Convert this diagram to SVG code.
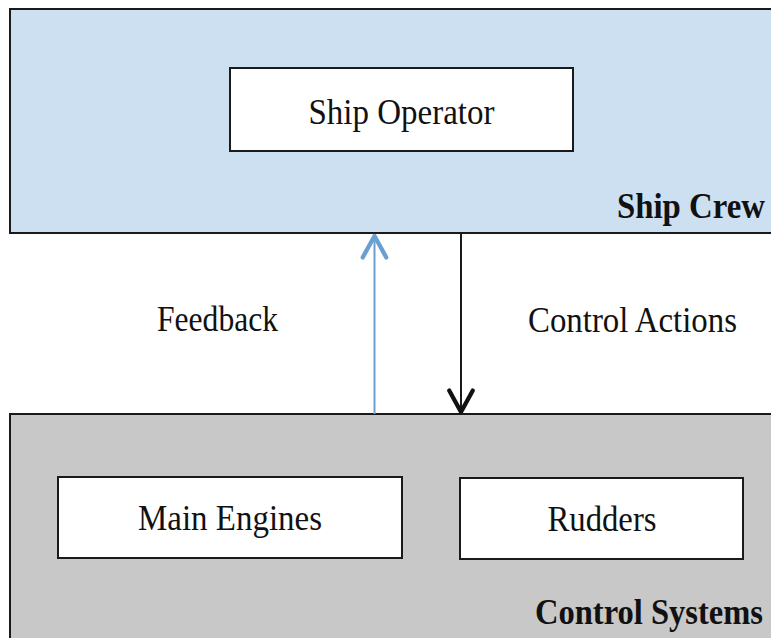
<svg xmlns="http://www.w3.org/2000/svg" width="771" height="638" viewBox="0 0 771 638">
  <style>
    .frame { stroke: #1a1a1a; stroke-width: 2; }
    .crew { fill: #cde0f1; }
    .systems { fill: #c8c8c8; }
    .box { fill: #ffffff; stroke: #1a1a1a; stroke-width: 2; }
    .lbl { font-family: "Liberation Serif", "Times New Roman", serif; font-size: 35px; fill: #111111; }
    .title { font-family: "Liberation Serif", "Times New Roman", serif; font-size: 35px; font-weight: bold; fill: #111111; }
    .fb { stroke: #6a9fd0; stroke-width: 2; fill: none; }
    .ca { stroke: #1a1a1a; stroke-width: 2; fill: none; }
  </style>
  <defs>
    <marker id="headBlue" markerUnits="userSpaceOnUse" markerWidth="30" markerHeight="30" viewBox="-24 -14 28 28" refX="0" refY="0" orient="auto">
      <path d="M -20 -11 L 0 0 L -20 11" fill="none" stroke="#6a9fd0" stroke-width="4" stroke-linecap="round" stroke-linejoin="round"/>
    </marker>
    <marker id="headBlack" markerUnits="userSpaceOnUse" markerWidth="30" markerHeight="30" viewBox="-24 -14 28 28" refX="0" refY="0" orient="auto">
      <path d="M -20 -11 L 0 0 L -20 11" fill="none" stroke="#111111" stroke-width="4" stroke-linecap="round" stroke-linejoin="round"/>
    </marker>
  </defs>

  <rect width="771" height="638" fill="#ffffff"/>

  <!-- upper layer: crew -->
  <g id="ship-crew">
    <rect class="frame crew" x="10" y="9" width="800" height="224"/>
    <text class="title" x="617" y="218" textLength="148" lengthAdjust="spacingAndGlyphs">Ship Crew</text>
  </g>
  <g id="ship-operator">
    <rect class="box" x="230" y="68" width="343" height="83"/>
    <text class="lbl" x="401.5" y="124" text-anchor="middle" textLength="186" lengthAdjust="spacingAndGlyphs">Ship Operator</text>
  </g>

  <!-- lower layer: controlled equipment -->
  <g id="control-systems">
    <rect class="frame systems" x="10" y="414" width="800" height="260"/>
    <text class="title" x="535" y="624" textLength="228" lengthAdjust="spacingAndGlyphs">Control Systems</text>
  </g>
  <g id="main-engines">
    <rect class="box" x="58" y="477" width="344" height="81"/>
    <text class="lbl" x="230" y="530" text-anchor="middle" textLength="184" lengthAdjust="spacingAndGlyphs">Main Engines</text>
  </g>
  <g id="rudders">
    <rect class="box" x="460" y="478" width="283" height="81"/>
    <text class="lbl" x="602" y="531" text-anchor="middle" textLength="109" lengthAdjust="spacingAndGlyphs">Rudders</text>
  </g>

  <!-- connectors between the layers -->
  <g id="connectors">
    <line class="fb" x1="374.5" y1="414" x2="374.5" y2="236" marker-end="url(#headBlue)"/>
    <line class="ca" x1="461" y1="233" x2="461" y2="412" marker-end="url(#headBlack)"/>
    <text class="lbl" x="157" y="331" textLength="121" lengthAdjust="spacingAndGlyphs">Feedback</text>
    <text class="lbl" x="528" y="332" textLength="209" lengthAdjust="spacingAndGlyphs">Control Actions</text>
  </g>
</svg>
